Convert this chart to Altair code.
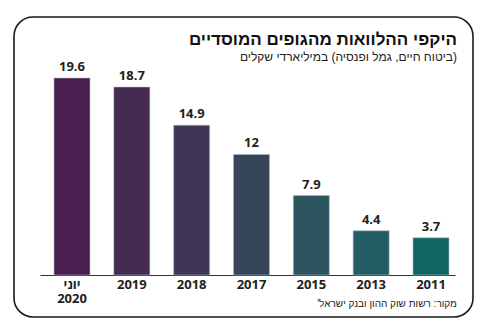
import altair as alt
import pandas as pd

# ---- data ----
categories = ["יוני 2020", "2019", "2018", "2017", "2015", "2013", "2011"]
values = [19.6, 18.7, 14.9, 12, 7.9, 4.4, 3.7]

TITLE = "היקפי ההלוואות מהגופים המוסדיים"
SUBTITLE = "(ביטוח חיים, גמל ופנסיה) במיליארדי שקלים"
SOURCE = "מקור: רשות שוק ההון ובנק ישראל'"

# ---- styles ----
bar_colors = ["#4a1e4e", "#452b52", "#3f3655", "#364658", "#2d5560", "#245c63", "#106562"]
RLM = "\u200f"

df = pd.DataFrame({"cat": categories, "val": values})

x_enc = alt.X(
    "cat:N",
    sort=None,
    scale=alt.Scale(paddingInner=0.398, paddingOuter=0.167, align=0.7),
    axis=alt.Axis(
        title=None,
        labelAngle=0,
        ticks=False,
        domainColor="#333333",
        domainWidth=1.2,
        labelFont="Open Sans",
        labelFontWeight="bold",
        labelFontSize=13,
        labelColor="#222222",
        labelPadding=3,
        labelLineHeight=14,
        labelExpr="split(datum.value, ' ')",
    ),
)
y_enc = alt.Y("val:Q", scale=alt.Scale(domain=[0, 27.36], nice=False), axis=None)

bars = alt.Chart(df).mark_bar(stroke="#a9bdd0", strokeWidth=0.8, strokeOpacity=0.7).encode(
    x=x_enc,
    y=y_enc,
    color=alt.Color("cat:N", sort=None, scale=alt.Scale(domain=categories, range=bar_colors), legend=None),
)

labels = alt.Chart(df).mark_text(
    baseline="bottom", dy=-4, font="Open Sans", fontWeight="bold", fontSize=13, color="#222222"
).encode(x=alt.X("cat:N", sort=None), y="val:Q", text=alt.Text("val:Q"))

def text_layer(s, x, y, size, weight, color="#222222"):
    return alt.Chart(pd.DataFrame({"t": [RLM + s + RLM]})).mark_text(
        align="right", baseline="middle", font="Liberation Sans", fontSize=size,
        fontWeight=weight, color=color
    ).encode(x=alt.value(x), y=alt.value(y), text="t:N")

title = text_layer(TITLE, 417, 40, 17, "bold", "#111111")
subtitle = text_layer(SUBTITLE, 417, 57, 12, "normal", "#222222")
source = text_layer(SOURCE, 417, 304, 10, "normal", "#222222")

frame = alt.Chart(pd.DataFrame({"a": [0]})).mark_rect(
    filled=False, stroke="#1a1a1a", strokeWidth=1.6, cornerRadius=19
).encode(x=alt.value(-26), x2=alt.value(433), y=alt.value(17), y2=alt.value(317))

chart = alt.layer(bars, labels, title, subtitle, source, frame).properties(
    width=415,
    height=275,
    autosize=alt.AutoSizeParams(type="none"),
    padding={"left": 40, "top": 0, "right": 28, "bottom": 58},
    background="white",
).configure_view(stroke=None)

chart.save("out.html", embed_options={"renderer": "svg", "actions": False})
